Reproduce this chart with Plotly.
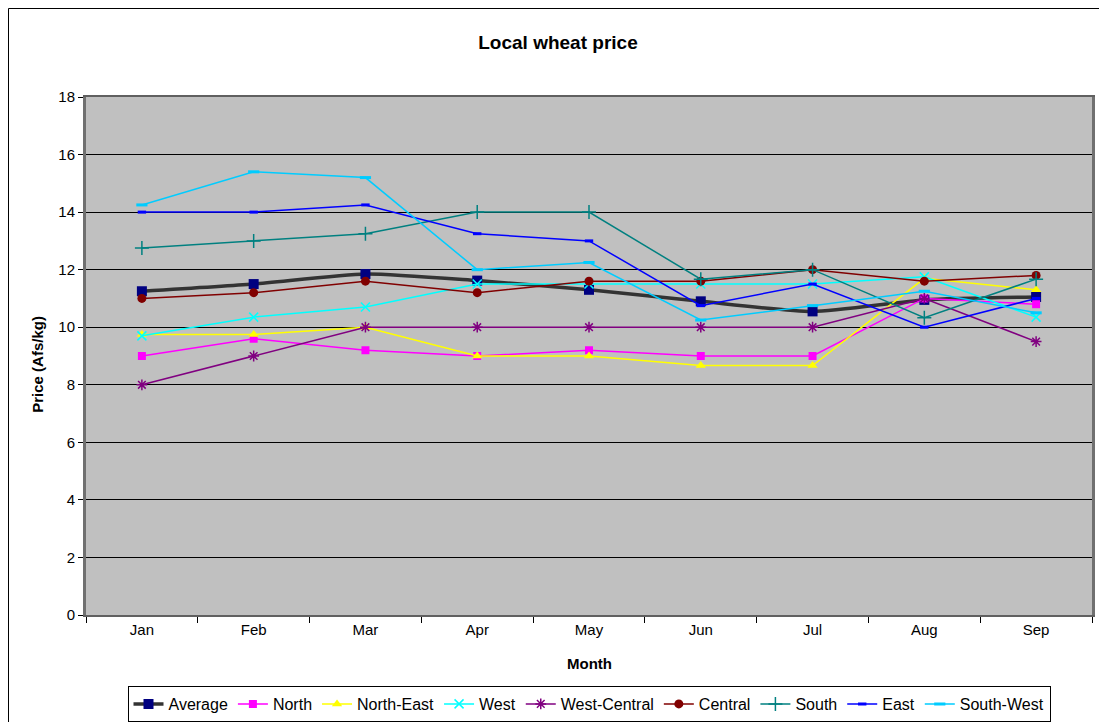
import plotly.graph_objects as go

months = ["Jan", "Feb", "Mar", "Apr", "May", "Jun", "Jul", "Aug", "Sep"]

average = [11.25, 11.5, 11.85, 11.62, 11.3, 10.9, 10.55, 10.95, 11.05]
north = [9.0, 9.6, 9.2, 9.0, 9.2, 9.0, 9.0, 11.0, 10.8]
north_east = [9.75, 9.75, 10.0, 9.0, 9.0, 8.67, 8.67, 11.7, 11.3]
west = [9.7, 10.35, 10.7, 11.5, 11.5, 11.5, 11.5, 11.75, 10.35]
west_central = [8.0, 9.0, 10.0, 10.0, 10.0, 10.0, 10.0, 11.0, 9.5]
central = [11.0, 11.2, 11.6, 11.2, 11.6, 11.6, 12.0, 11.6, 11.8]
south = [12.75, 13.0, 13.25, 14.0, 14.0, 11.67, 12.0, 10.33, 11.67]
east = [14.0, 14.0, 14.25, 13.25, 13.0, 10.75, 11.5, 10.0, 11.0]
south_west = [14.25, 15.4, 15.2, 12.0, 12.25, 10.25, 10.75, 11.25, 10.5]

series = [
    ("Average", average, "#333333", 3.5, "square", "#000080", 10, "spline"),
    ("North", north, "#FF00FF", 1.5, "square", "#FF00FF", 8, "linear"),
    ("North-East", north_east, "#FFFF00", 1.5, "triangle-up", "#FFFF00", 9, "linear"),
    ("West", west, "#00FFFF", 1.5, "x-thin-open", "#00FFFF", 9, "linear"),
    ("West-Central", west_central, "#800080", 1.5, "asterisk-open", "#800080", 9, "linear"),
    ("Central", central, "#800000", 1.5, "circle", "#800000", 9, "linear"),
    ("South", south, "#008080", 1.5, "cross-thin-open", "#008080", 10, "linear"),
    ("East", east, "#0000FF", 1.5, "line-ew-open", "#0000FF", 6, "linear"),
    ("South-West", south_west, "#00CCFF", 1.5, "line-ew-open", "#00CCFF", 8, "linear"),
]

fig = go.Figure()
for name, vals, lc, lw, sym, mc, ms, shape in series:
    fig.add_trace(go.Scatter(
        x=months, y=vals, name=name, mode="lines+markers",
        line=dict(color=lc, width=lw, shape=shape, smoothing=0.6),
        marker=dict(symbol=sym, color=mc, size=ms,
                    line=dict(color=mc, width=(3 if sym == "line-ew-open" else 1.5) if "open" in sym else 0)),
    ))

W, H = 1099, 714
L, T, R, B = 78, 89, 15, 107
pw, ph = W - L - R, H - T - B

fig.update_layout(
    width=W, height=H,
    margin=dict(l=L, r=R, t=T, b=B),
    paper_bgcolor="white",
    plot_bgcolor="#C0C0C0",
    font=dict(family="Liberation Sans, Arial, sans-serif", size=15, color="black"),
    title=dict(text="<b>Local wheat price</b>", x=550 / W, xanchor="center",
               xref="container", yref="container",
               y=1 - 34 / H, yanchor="middle", font=dict(size=19)),
    xaxis=dict(
        type="category", range=[-0.5, 8.5], tickson="boundaries",
        ticks="outside", ticklen=6, tickcolor="black",
        showline=True, linecolor="#606060", linewidth=2, mirror=True,
        showgrid=False, zeroline=False,
        tickfont=dict(size=15),
    ),
    yaxis=dict(
        range=[0, 18], dtick=2, ticks="outside", ticklen=5, tickcolor="black",
        showline=True, linecolor="#707070", linewidth=3, mirror=True,
        showgrid=True, gridcolor="black", gridwidth=1,
        zeroline=False,
        tickfont=dict(size=15),
    ),
    legend=dict(
        orientation="h", x=581 / W, xref="container", xanchor="center",
        y=1 - 678 / H, yref="container", yanchor="top",
        bordercolor="black", borderwidth=1, bgcolor="white",
        font=dict(size=16), tracegroupgap=0,
    ),
    showlegend=True,
    annotations=[
        dict(text="<b>Month</b>", xref="paper", yref="paper", x=0.5, y=-48 / ph,
             xanchor="center", yanchor="middle", showarrow=False, font=dict(size=15)),
        dict(text="<b>Price (Afs/kg)</b>", xref="paper", yref="paper",
             x=(30 - L) / pw, y=0.483, textangle=-90,
             xanchor="center", yanchor="middle", showarrow=False, font=dict(size=15)),
    ],
)

fig.add_shape(type="rect", xref="paper", yref="paper",
              x0=(0.5 - L) / pw, x1=1.2, y0=-0.5, y1=1 + (T - 0.5) / ph,
              line=dict(color="black", width=1), fillcolor="rgba(0,0,0,0)", layer="below")

fig.write_html("out.html")
